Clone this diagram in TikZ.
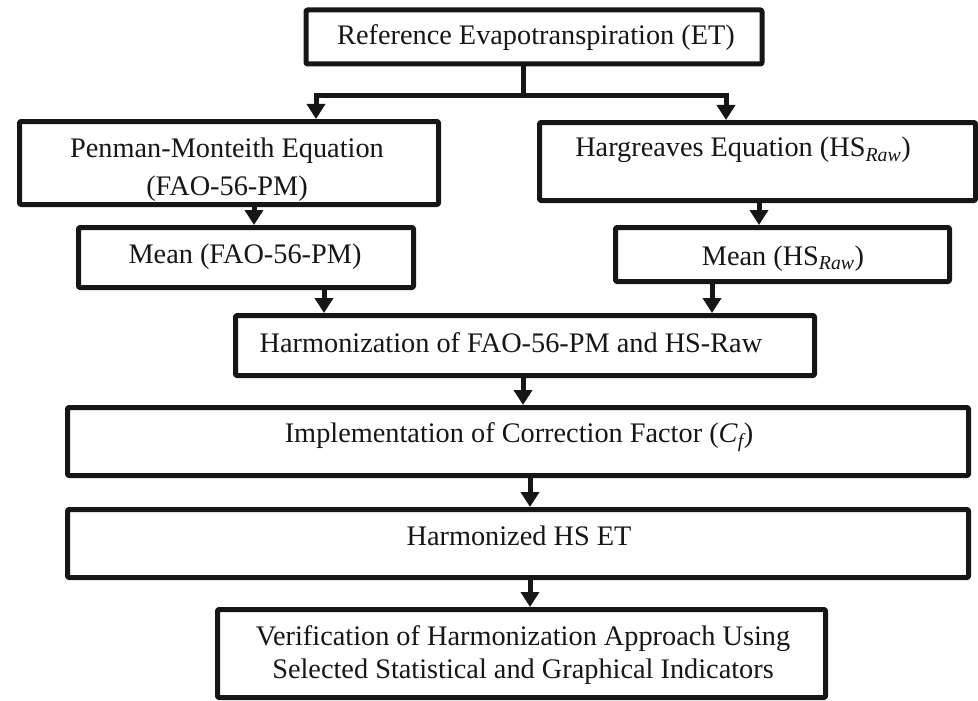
\documentclass[tikz,border=0pt]{standalone}
\usepackage{fontspec}
\setmainfont{Liberation Serif}
\usetikzlibrary{arrows.meta}
\definecolor{ink}{RGB}{22,22,22}
\begin{document}
\begin{tikzpicture}[x=1pt,y=-1pt,
  box/.style={draw=ink, line width=5pt, line join=round, rounded corners=1.2pt, inner sep=0pt, fill=white},
  txt/.style={anchor=base, inner sep=0pt, text=ink, align=center, font=\fontsize{28.3}{33}\selectfont},
  conn/.style={draw=ink, line width=5pt},
  arrow/.style={conn, -{Triangle[width=18pt,length=15pt]}}
]
\useasboundingbox (0,0) rectangle (978,701);
% boxes
\node[box, minimum width=456pt, minimum height=54pt] (b1) at (534,37) {};
\node[box, minimum width=419pt, minimum height=83pt] (pen) at (229,163) {};
\node[box, minimum width=436pt, minimum height=78pt] (harg) at (757.5,161.5) {};
\node[box, minimum width=335pt, minimum height=60pt] (mfao) at (246,257.5) {};
\node[box, minimum width=334pt, minimum height=54pt] (mhs) at (782.5,254.5) {};
\node[box, minimum width=579pt, minimum height=60pt] (harm) at (525,345.5) {};
\node[box, minimum width=901pt, minimum height=68pt] (impl) at (518,441.5) {};
\node[box, minimum width=901pt, minimum height=68pt] (hset) at (518,543.5) {};
\node[box, minimum width=608pt, minimum height=88pt] (verif) at (521.5,653.5) {};
% texts (base anchor = baseline of the last line)
\node[txt] (b1t) at (536,45) {Reference Evapotranspiration (ET)};
\node[txt, font=\fontsize{28.3}{38}\selectfont] (pent) at (227,195) {Penman-Monteith Equation\\(FAO-56-PM)};
\node[txt] (hargt) at (743,157) {Hargreaves Equation (HS\textsubscript{\itshape Raw})};
\node[txt] (mfaot) at (245,263) {Mean (FAO-56-PM)};
\node[txt] (mhst) at (783,265) {Mean (HS\textsubscript{\itshape Raw})};
\node[txt] (harmt) at (511,352) {Harmonization of FAO-56-PM and HS-Raw};
\node[txt] (implt) at (519,442) {Implementation of Correction Factor (\textit{C}\textsubscript{\itshape f})};
\node[txt] (hsett) at (519,545) {Harmonized HS ET};
\node[txt] (verift) at (523,678) {Verification of Harmonization Approach Using\\Selected Statistical and Graphical Indicators};
% connectors
\coordinate (split) at (523,96);
\coordinate (sl) at (316,96);
\coordinate (sr) at (726,96);
\coordinate (xa) at (254,0);
\coordinate (xb) at (759,0);
\coordinate (xc) at (324,0);
\coordinate (xd) at (712,0);
\coordinate (xe) at (523,0);
\coordinate (xf) at (530,0);
\draw[conn] (b1.south -| split) -- (split);
\draw[conn, line cap=rect] (sl) -- (sr);
\draw[arrow] (sl) -- (sl |- pen.north);
\draw[arrow] (sr) -- (sr |- harg.north);
\draw[arrow] (xa |- pen.south) -- (xa |- mfao.north);
\draw[arrow] (xb |- harg.south) -- (xb |- mhs.north);
\draw[arrow] (xc |- mfao.south) -- (xc |- harm.north);
\draw[arrow] (xd |- mhs.south) -- (xd |- harm.north);
\draw[arrow] (xe |- harm.south) -- (xe |- impl.north);
\draw[arrow] (xf |- impl.south) -- (xf |- hset.north);
\draw[arrow] (xf |- hset.south) -- (xf |- verif.north);
\end{tikzpicture}
\end{document}
